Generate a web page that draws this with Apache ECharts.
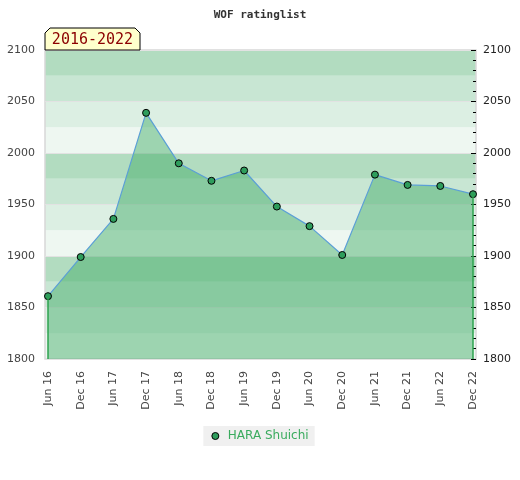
<!DOCTYPE html>
<html>
<head>
<meta charset="utf-8">
<script src="https://cdn.jsdelivr.net/npm/echarts@6/dist/echarts.min.js"></script>
<style>
  html, body { margin: 0; padding: 0; background: #fff; }
  #chart { width: 520px; height: 480px; }
</style>
</head>
<body>
<div id="chart"></div>
<script>
// half-year periods and the rating at each
const periods = ["Jun 16", "Dec 16", "Jun 17", "Dec 17", "Jun 18", "Dec 18", "Jun 19",
  "Dec 19", "Jun 20", "Dec 20", "Jun 21", "Dec 21", "Jun 22", "Dec 22"];
const ratings = [1861, 1899, 1936, 2039, 1990, 1973, 1983, 1948, 1929, 1901, 1979, 1969, 1968, 1960];
const player = "HARA Shuichi";
const yMin = 1800, yMax = 2100;

const chart = echarts.init(document.getElementById("chart"));

const first = 0, last = periods.length - 1;
const plain = (v) => String(v);

chart.setOption({
  animation: false,
  title: {
    text: "WOF ratinglist",
    left: "center",
    top: 5,
    textStyle: { fontFamily: "DejaVu Sans Mono", fontSize: 11, fontWeight: "bold", color: "#333" },
  },
  legend: {
    bottom: 34,
    left: "center",
    backgroundColor: "#f0f0f0",
    padding: [4, 6, 4, 8],
    itemWidth: 7,
    itemHeight: 7,
    textStyle: { color: "#3aab5e", fontFamily: "DejaVu Sans", fontSize: 12, padding: [0, 0, 0, 4] },
    data: [{
      name: player,
      icon: "circle",
      itemStyle: { color: "#2e9d5c", borderColor: "#000", borderWidth: 1 },
    }],
  },
  grid: [
    // background frame with bands + axis labels
    { left: 45, right: 44, top: 50, bottom: 121, show: true, borderColor: "#d8d8d8", borderWidth: 1.5 },
    // data area
    { left: 48, right: 47, top: 50, bottom: 121 },
  ],
  xAxis: [
    { gridIndex: 0, type: "value", show: false, min: 0, max: 1 },
    {
      gridIndex: 1,
      type: "category",
      data: periods,
      boundaryGap: false,
      axisLine: { show: false },
      axisTick: { show: false },
      axisLabel: { rotate: 90, margin: 12, interval: 0, color: "#444", fontFamily: "DejaVu Sans", fontSize: 11 },
    },
  ],
  yAxis: [
    {
      gridIndex: 0, type: "value", min: yMin, max: yMax, interval: 50, position: "left",
      axisLine: { show: false }, axisTick: { show: false },
      axisLabel: { margin: 10, color: "#444", fontFamily: "DejaVu Sans", fontSize: 11, formatter: plain },
      splitLine: { show: true, lineStyle: { color: "#e2e2e2", width: 1 } },
    },
    {
      gridIndex: 0, type: "value", min: yMin, max: yMax, interval: 50, position: "right",
      axisLine: { show: false },
      axisTick: { show: true, inside: true, length: 5, lineStyle: { color: "#000" } },
      minorTick: { show: true, splitNumber: 5, length: 3, lineStyle: { color: "#000" } },
      axisLabel: { margin: 7, color: "#222", fontFamily: "DejaVu Sans", fontSize: 11, formatter: plain },
      splitLine: { show: false },
    },
    {
      gridIndex: 0, type: "value", min: yMin, max: yMax, interval: 25, position: "left",
      axisLine: { show: false }, axisTick: { show: false }, axisLabel: { show: false },
      splitLine: { show: false },
      splitArea: { show: true, areaStyle: { color: ["#eef7f1", "#dcefe3", "#c8e6d3", "#b2dcc0"] } },
      z: -1,
    },
    { gridIndex: 1, type: "value", min: yMin, max: yMax, show: false },
  ],
  series: [{
    name: player,
    type: "line",
    xAxisIndex: 1,
    yAxisIndex: 3,
    data: ratings,
    symbol: "circle",
    symbolSize: 7,
    lineStyle: { color: "#5b9fd6", width: 1.2 },
    itemStyle: { color: "#2e9d5c", borderColor: "#000", borderWidth: 1 },
    areaStyle: { color: "#3aa862", opacity: 0.45, origin: "start" },
    markLine: {
      silent: true,
      symbol: "none",
      label: { show: false },
      lineStyle: { color: "#2ea34f", width: 1.5, type: "solid" },
      data: [
        [{ coord: [periods[first], yMin] }, { coord: [periods[first], ratings[first]] }],
        [{ coord: [periods[last], yMin] }, { coord: [periods[last], ratings[last]] }],
      ],
    },
  }],
  graphic: [
    {
      type: "polygon",
      shape: { points: [[45, 50], [45, 33], [50, 28], [135, 28], [140, 33], [140, 50]] },
      style: { fill: "#ffffcc", stroke: "#000", lineWidth: 1 },
      z: 10,
    },
    {
      type: "text",
      x: 92.5, y: 40,
      style: {
        text: "2016-2022", fill: "#8b0000", font: "15px 'DejaVu Sans Mono'",
        align: "center", verticalAlign: "middle",
      },
      z: 11,
    },
  ],
});
</script>
</body>
</html>
